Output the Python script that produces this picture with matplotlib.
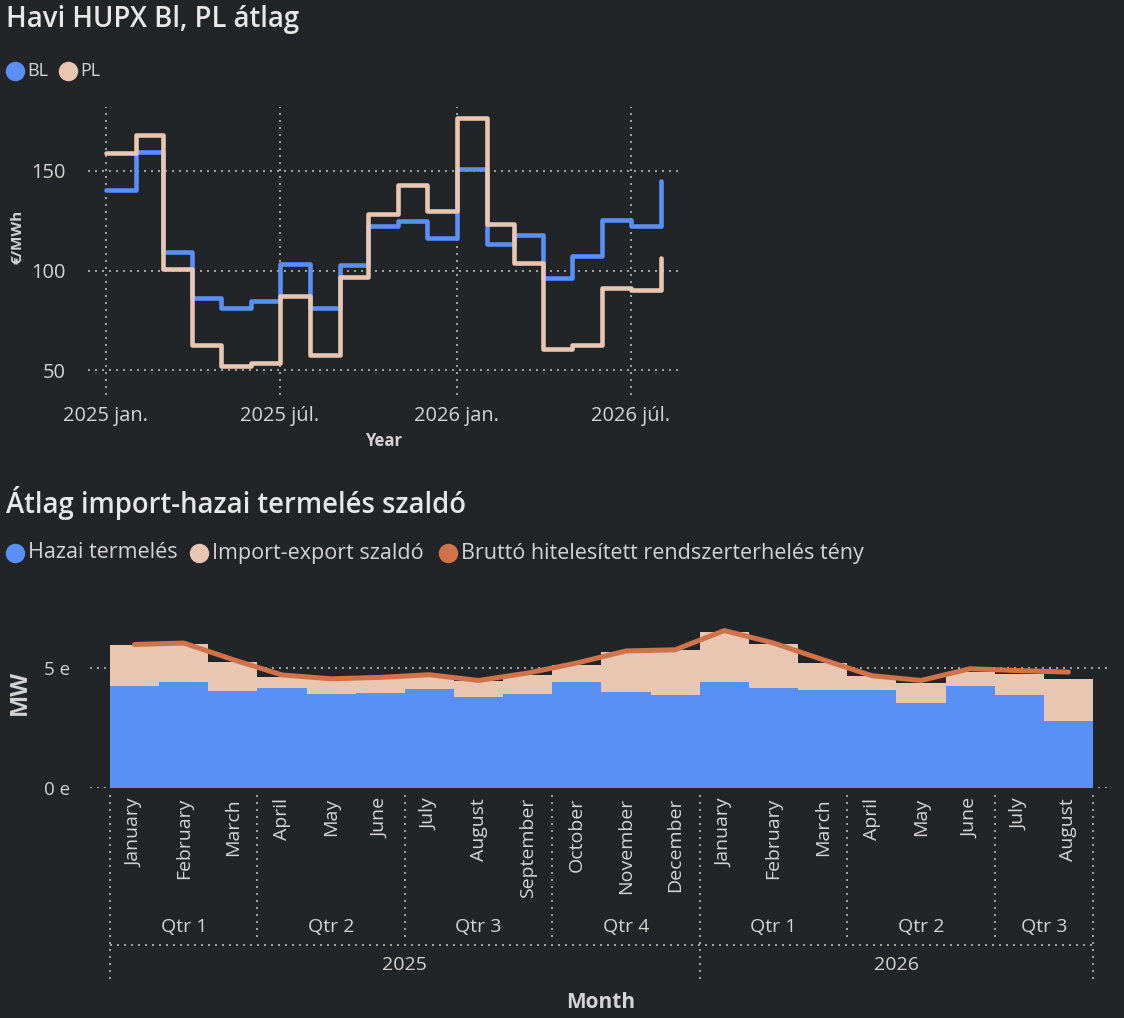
import matplotlib
matplotlib.use('Agg')
import matplotlib.pyplot as plt
import matplotlib.dates as mdates
import matplotlib.transforms as mtransforms
from matplotlib.lines import Line2D
import datetime as dt

plt.rcParams['font.family'] = ['Open Sans', 'DejaVu Sans']

# ---------------- data ----------------
top_months = ['2025-01', '2025-02', '2025-03', '2025-04', '2025-05', '2025-06',
              '2025-07', '2025-08', '2025-09', '2025-10', '2025-11', '2025-12',
              '2026-01', '2026-02', '2026-03', '2026-04', '2026-05', '2026-06',
              '2026-07', '2026-08']
bl = [140.6, 159.4, 109.5, 86.0, 81.0, 84.6, 103.3, 81.0, 102.8, 122.2,
      124.9, 116.1, 150.8, 113.5, 117.7, 96.5, 107.4, 125.3, 122.4, 144.8]
pl = [158.7, 167.9, 101.0, 62.5, 52.0, 53.7, 87.1, 57.5, 96.8, 128.6,
      143.1, 129.9, 176.6, 123.1, 104.0, 60.9, 62.5, 91.0, 90.1, 106.5]
top_tick_dates = ['2025-01-01', '2025-07-01', '2026-01-01', '2026-07-01']
top_tick_labels = ['2025 jan.', '2025 júl.', '2026 jan.', '2026 júl.']
top_yticks = [50, 100, 150]

bottom_years = [2025] * 12 + [2026] * 8
bottom_month_names = ['January', 'February', 'March', 'April', 'May', 'June',
                      'July', 'August', 'September', 'October', 'November', 'December',
                      'January', 'February', 'March', 'April', 'May', 'June',
                      'July', 'August']
bottom_month_nums = list(range(1, 13)) + list(range(1, 9))
hazai = [4.26, 4.43, 4.05, 4.18, 3.93, 3.97, 4.14, 3.81, 3.93, 4.43,
         4.01, 3.89, 4.43, 4.18, 4.10, 4.10, 3.55, 4.26, 3.89, 2.80]
szaldo = [1.71, 1.58, 1.21, 0.46, 0.62, 0.63, 0.56, 0.64, 0.79, 0.71,
          1.67, 1.85, 2.08, 1.81, 1.12, 0.58, 0.82, 0.57, 0.87, 1.75]
brutto = [5.98, 6.04, 5.35, 4.71, 4.55, 4.61, 4.72, 4.48, 4.79, 5.21,
          5.71, 5.76, 6.56, 6.04, 5.35, 4.68, 4.48, 4.97, 4.89, 4.83]
bottom_yticks = [0, 5]
bottom_ytick_labels = ['0 e', '5 e']

# ---------------- style ----------------
BG = '#222528'
BLUE = '#5A8FF5'
BEIGE = '#E8C6B1'
ORANGE = '#D0734A'
TITLE_C = '#E8E8E8'
TXT = '#D4D4D4'
GRID = '#A0A0A0'
W, H = 1124, 1018


def fx(x):
    return x / W


def fy(y):
    return 1 - y / H


fig = plt.figure(figsize=(W / 100, H / 100), dpi=100, facecolor=BG)

# ---------------- top chart ----------------
fig.text(fx(6), fy(20), 'Havi HUPX Bl, PL átlag', fontsize=19.8, color=TITLE_C,
         fontweight='semibold', ha='left', va='center')
fig.add_artist(Line2D([fx(15)], [fy(71)], marker='o', ms=13, color=BLUE, lw=0,
                      transform=fig.transFigure))
fig.text(fx(27), fy(71), 'BL', fontsize=13, color=TXT, ha='left', va='center')
fig.add_artist(Line2D([fx(68)], [fy(71)], marker='o', ms=13, color=BEIGE, lw=0,
                      transform=fig.transFigure))
fig.text(fx(80), fy(71), 'PL', fontsize=13, color=TXT, ha='left', va='center')

ax1 = fig.add_axes([fx(88), fy(395), (680 - 88) / W, (395 - 107) / H])
ax1.set_facecolor(BG)
dates = [dt.datetime.strptime(m + '-01', '%Y-%m-%d') for m in top_months]
ax1.step(dates, bl, where='post', color=BLUE, lw=3.3, solid_capstyle='round', zorder=3)
ax1.step(dates, pl, where='post', color=BEIGE, lw=3.3, solid_capstyle='round', zorder=4)
ax1.set_xlim(dt.datetime(2024, 12, 13, 12), dt.datetime(2026, 8, 21))
ax1.set_ylim(37.6, 182)
tick_dates = [dt.datetime.strptime(d, '%Y-%m-%d') for d in top_tick_dates]
ax1.set_xticks(tick_dates)
ax1.set_xticklabels(top_tick_labels)
ax1.set_yticks(top_yticks)
ax1.tick_params(axis='both', length=0, colors=TXT, labelsize=14.4)
ax1.tick_params(axis='x', pad=8)
ax1.tick_params(axis='y', pad=16)
ax1.grid(True, color=GRID, lw=1.44, ls=(0, (1, 2.5)))
ax1.set_axisbelow(True)
for s in ax1.spines.values():
    s.set_visible(False)
ax1.set_xlabel('Year', fontsize=12, fontweight='bold', color=TXT, labelpad=4)
fig.text(fx(17), fy(237), '€/MWh', fontsize=11, fontweight='bold', color=TXT,
         rotation=90, ha='center', va='center')

# ---------------- bottom chart ----------------
fig.text(fx(6), fy(503), 'Átlag import-hazai termelés szaldó', fontsize=19.8,
         color=TITLE_C, fontweight='semibold', ha='left', va='center')
leg = [(15, 28, BLUE, 'Hazai termelés'),
       (199, 212, BEIGE, 'Import-export szaldó'),
       (448, 461, ORANGE, 'Bruttó hitelesített rendszerterhelés tény')]
for cx, tx, c, lab in leg:
    fig.add_artist(Line2D([fx(cx)], [fy(553)], marker='o', ms=13, color=c, lw=0,
                          transform=fig.transFigure))
    fig.text(fx(tx), fy(553), lab, fontsize=15.5, color=TXT, ha='left', va='center')

ax2 = fig.add_axes([fx(90), fy(788), (1110 - 90) / W, (788 - 596) / H])
ax2.set_facecolor(BG)
xs = list(range(len(hazai)))
ax2.bar(xs, hazai, width=1.0, color=BLUE, lw=0, zorder=2)
ax2.bar(xs, szaldo, width=1.0, bottom=hazai, color=BEIGE, lw=0, zorder=2)
ax2.plot(xs, brutto, color=ORANGE, lw=3.6, solid_capstyle='round', zorder=4)
ppm = (1093 - 110) / len(xs)
ax2.set_xlim(-0.5 - 20 / ppm, len(xs) - 0.5 + 17 / ppm)
ax2.set_ylim(0, 8)
ax2.set_yticks(bottom_yticks)
ax2.set_yticklabels(bottom_ytick_labels)
ax2.set_xticks([])
ax2.tick_params(axis='y', length=0, colors=TXT, labelsize=13.5, pad=14)
ax2.yaxis.grid(True, color=GRID, lw=1.44, ls=(0, (1, 2.5)), zorder=1)
ax2.set_axisbelow(True)
for s in ax2.spines.values():
    s.set_visible(False)
fig.text(fx(20), fy(692), 'MW', fontsize=17, fontweight='bold', color=TXT,
         rotation=90, ha='center', va='center')

tr = mtransforms.blended_transform_factory(ax2.transData, fig.transFigure)
dot = dict(color=GRID, lw=1.44, ls=(0, (1, 2.5)), transform=tr, clip_on=False)

# month labels
for i, name in enumerate(bottom_month_names):
    fig.text(0, 0, name, transform=tr, fontsize=14, color=TXT, rotation=90,
             ha='center', va='top').set_position((i, fy(798)))

# quarter groups
groups = []
for i, (y, m) in enumerate(zip(bottom_years, bottom_month_nums)):
    q = (m - 1) // 3 + 1
    if groups and groups[-1][0] == (y, q):
        groups[-1][2] = i
    else:
        groups.append([(y, q), i, i])
for (y, q), a, b in groups:
    fig.text(0, 0, 'Qtr %d' % q, transform=tr, fontsize=14, color=TXT,
             ha='center', va='center').set_position(((a + b) / 2, fy(927)))
    if a > 0 and bottom_years[a - 1] == y:
        fig.add_artist(Line2D([a - 0.5, a - 0.5], [fy(795), fy(937)], **dot))

# year groups
ygroups = []
for i, y in enumerate(bottom_years):
    if ygroups and ygroups[-1][0] == y:
        ygroups[-1][2] = i
    else:
        ygroups.append([y, i, i])
for y, a, b in ygroups:
    fig.text(0, 0, str(y), transform=tr, fontsize=14, color=TXT,
             ha='center', va='center').set_position(((a + b) / 2, fy(965)))
    fig.add_artist(Line2D([a - 0.5, a - 0.5], [fy(795), fy(983)], **dot))
fig.add_artist(Line2D([len(xs) - 0.5, len(xs) - 0.5], [fy(795), fy(983)], **dot))
fig.add_artist(Line2D([-0.5, len(xs) - 0.5], [fy(945), fy(945)], **dot))

fig.text(fx(601), fy(1003), 'Month', fontsize=15, fontweight='bold', color=TXT,
         ha='center', va='center')

fig.savefig('out.png', dpi=100, facecolor=BG)
